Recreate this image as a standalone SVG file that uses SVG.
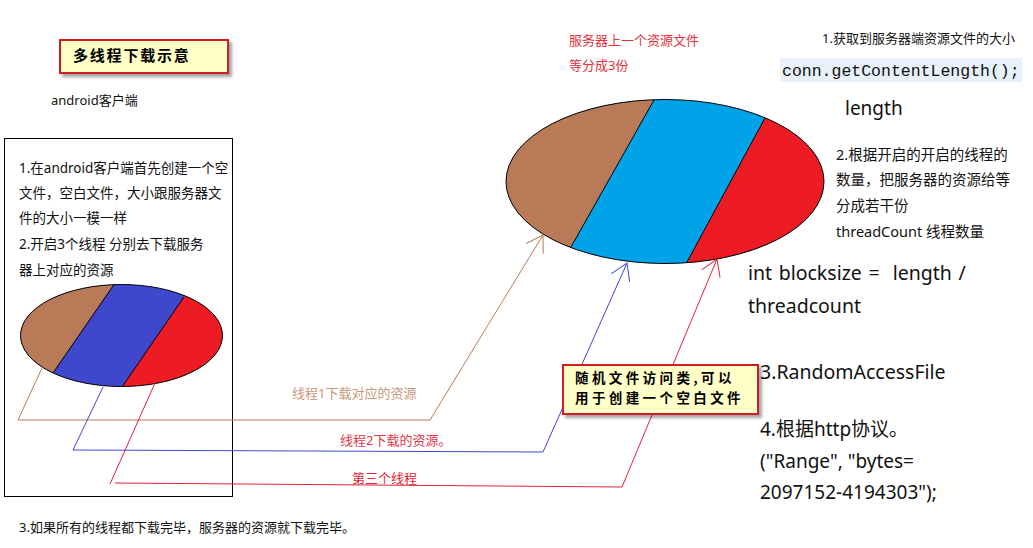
<svg xmlns="http://www.w3.org/2000/svg" width="1033" height="548" viewBox="0 0 1033 548">
<defs>
<style>
.t{font-family:"Noto Sans","Noto Sans CJK SC",sans-serif;fill:#111}
.s13{font-size:13px}
.s135{font-size:13.5px}
.s145{font-size:14.5px}
.big{font-size:19.5px}
.red{fill:#E3303C}
.note{fill:#FFFFC8;stroke:#D01A22;stroke-width:2;filter:url(#sh)}
.nt{font-family:"Noto Sans CJK SC",sans-serif;font-weight:bold;font-size:15px;letter-spacing:1.8px;fill:#000}
.nt2{font-family:"Noto Sans CJK SC",sans-serif;font-weight:bold;font-size:13.5px;letter-spacing:3.4px;fill:#000}
.edge{fill:none;stroke-width:1}
</style>
<filter id="sh" x="-10%" y="-20%" width="130%" height="160%">
<feDropShadow dx="3" dy="3" stdDeviation="1.5" flood-color="#000" flood-opacity="0.35"/>
</filter>
<clipPath id="cs"><ellipse cx="121.5" cy="335.5" rx="101" ry="51"/></clipPath>
<clipPath id="cb"><ellipse cx="665" cy="181.5" rx="159" ry="82"/></clipPath>
<marker id="ab" markerUnits="userSpaceOnUse" markerWidth="40" markerHeight="40" refX="0" refY="0" viewBox="-20 -20 40 40" orient="auto" overflow="visible"><path d="M-16,-10 L0,0 L-16,10" fill="none" stroke="#B97A57"/></marker>
<marker id="au" markerUnits="userSpaceOnUse" markerWidth="40" markerHeight="40" refX="0" refY="0" viewBox="-20 -20 40 40" orient="auto" overflow="visible"><path d="M-16,-10 L0,0 L-16,10" fill="none" stroke="#3F48CC"/></marker>
<marker id="ar" markerUnits="userSpaceOnUse" markerWidth="40" markerHeight="40" refX="0" refY="0" viewBox="-20 -20 40 40" orient="auto" overflow="visible"><path d="M-16,-10 L0,0 L-16,10" fill="none" stroke="#E0203A"/></marker>
</defs>
<rect width="1033" height="548" fill="#fff"/>

<g id="title">
<rect class="note" x="60" y="40" width="168" height="33"/>
<text class="nt" x="73" y="60.5">多线程下载示意</text>
</g>

<g id="client-label">
<text class="t s13" x="51" y="104.5">android客户端</text>
</g>

<g id="client-box">
<rect x="4.5" y="138.5" width="228" height="358" fill="none" stroke="#000"/>
<text class="t s135" x="19" y="173">1.在android客户端首先创建一个空</text>
<text class="t s135" x="19" y="198">文件，空白文件，大小跟服务器文</text>
<text class="t s135" x="19" y="223">件的大小一模一样</text>
<text class="t s135" x="19" y="249">2.开启3个线程 分别去下载服务</text>
<text class="t s135" x="19" y="275">器上对应的资源</text>
</g>

<g id="client-file">
<g clip-path="url(#cs)">
<rect x="15" y="280" width="215" height="112" fill="#3F48CC"/>
<polygon points="0,270 123.6,270 34.5,400 0,400" fill="#B97A57"/>
<polygon points="202.6,270 240,270 240,400 113,400" fill="#ED1C24"/>
</g>
<ellipse cx="121.5" cy="335.5" rx="101" ry="51" fill="none" stroke="#000"/>
<line x1="114" y1="284.5" x2="53" y2="373" stroke="#000"/>
<line x1="184" y1="297" x2="122" y2="387" stroke="#000"/>
</g>

<g id="server-label">
<text class="t s13 red" x="569" y="44.5">服务器上一个资源文件</text>
<text class="t s13 red" x="569" y="69.5">等分成3份</text>
</g>

<g id="server-file">
<g clip-path="url(#cb)">
<rect x="500" y="95" width="330" height="175" fill="#00A2E8"/>
<polygon points="490,90 659.6,90 555.2,275 490,275" fill="#B97A57"/>
<polygon points="780.2,90 840,90 840,275 680,275" fill="#ED1C24"/>
</g>
<ellipse cx="665" cy="181.5" rx="159" ry="82" fill="none" stroke="#000"/>
<line x1="654" y1="100" x2="571" y2="247" stroke="#000"/>
<line x1="765" y1="118" x2="687" y2="262" stroke="#000"/>
</g>

<g id="connectors">
<path class="edge" d="M42,368 L18,420 L430,420 L543,235" stroke="#B97A57" marker-end="url(#ab)"/>
<path class="edge" d="M103,387 L73,450 L543,452 L627,263" stroke="#3F48CC" marker-end="url(#au)"/>
<path class="edge" d="M155,383 L110,484 M115,483 L622,487 L717,259" stroke="#E0203A" marker-end="url(#ar)"/>
<text class="t s13" x="292" y="397.5" style="fill:#C8977A">线程1下载对应的资源</text>
<text class="t s13" x="340" y="444.5" style="fill:#E03848">线程2下载的资源。</text>
<text class="t s13" x="352" y="482.5" style="fill:#E02234">第三个线程</text>
</g>

<g id="random-note">
<rect class="note" x="563" y="365" width="195" height="49"/>
<text class="nt2" x="575" y="383">随机文件访问类,可以</text>
<text class="nt2" x="575" y="402.5">用于创建一个空白文件</text>
</g>

<g id="step1">
<text class="t s13" x="822" y="42.5">1.获取到服务器端资源文件的大小</text>
<rect x="780" y="58" width="242" height="24" fill="#E8F0FA"/>
<text x="782" y="75.5" style="font-family:'Liberation Mono',monospace;font-size:16.5px;fill:#111">conn.getContentLength();</text>
<text class="t" x="845" y="115" style="font-size:19px">length</text>
</g>

<g id="step2">
<text class="t s145" x="836" y="160">2.根据开启的开启的线程的</text>
<text class="t s145" x="836" y="185">数量，把服务器的资源给等</text>
<text class="t s145" x="836" y="211">分成若干份</text>
<text class="t s145" x="836" y="237">threadCount 线程数量</text>
<text class="t big" x="748" y="280" xml:space="preserve" style="word-spacing:1.5px">int blocksize =  length /</text>
<text class="t big" x="748" y="313">threadcount</text>
</g>

<g id="step3">
<text class="t big" x="760" y="379">3.RandomAccessFile</text>
</g>

<g id="step4">
<text class="t" x="760" y="436" style="font-size:19px">4.根据http协议。</text>
<text class="t" x="760" y="468" style="font-size:19px">("Range", "bytes=</text>
<text class="t" x="760" y="499" style="font-size:19px">2097152-4194303");</text>
</g>

<g id="finish">
<text class="t s13" x="19" y="531.5">3.如果所有的线程都下载完毕，服务器的资源就下载完毕。</text>
</g>
</svg>
